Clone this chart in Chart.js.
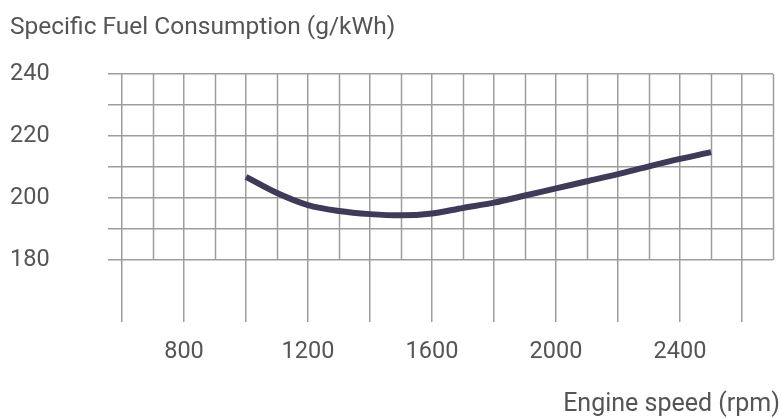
<!DOCTYPE html>
<html>
<head>
<meta charset="utf-8">
<script src="https://cdn.jsdelivr.net/npm/chart.js@4/dist/chart.umd.min.js"></script>
<style>
    html, body { margin: 0; padding: 0; background: #fff; }
    #wrap { width: 782px; height: 418px; }
</style>
</head>
<body>
<div id="wrap"><canvas id="sfc" width="782" height="418"></canvas></div>
<script>
// Engine speed (rpm) and specific fuel consumption (g/kWh).
const rpm = [1000, 1100, 1200, 1300, 1400, 1500, 1600, 1700, 1800, 1900, 2000, 2100, 2200, 2300, 2400, 2500];
const sfc = [206.8, 201.6, 197.7, 195.8, 194.8, 194.4, 195.0, 196.8, 198.5, 200.8, 203.1, 205.4, 207.7, 210.2, 212.6, 214.8];

const xLabels = [800, 1200, 1600, 2000, 2400];
const yLabels = [180, 200, 220, 240];

const GRID = '#9d9d9d';
const TEXT = '#555';
const NONE = 'rgba(0,0,0,0)';
const FONT = "Roboto, 'Liberation Sans', sans-serif";

// minor vertical lines only run through the upper (180-240) band
const shortLines = {
    id: 'shortLines',
    beforeDatasetsDraw(chart) {
        const x = chart.scales.x, y = chart.scales.y;
        const ctx = chart.ctx;
        ctx.save();
        ctx.strokeStyle = GRID;
        ctx.lineWidth = 1.5;
        for (let v = 700; v <= 2700; v += 200) {
            const px = Math.round(x.getPixelForValue(v)) + 0.5;
            ctx.beginPath();
            ctx.moveTo(px, y.getPixelForValue(240));
            ctx.lineTo(px, y.getPixelForValue(180));
            ctx.stroke();
        }
        ctx.restore();
    }
};

new Chart(document.getElementById('sfc'), {
    type: 'line',
    data: {
        datasets: [{
            data: rpm.map((r, i) => ({x: r, y: sfc[i]})),
            borderColor: '#3e3b58',
            borderWidth: 6,
            borderCapStyle: 'butt',
            pointRadius: 0,
            cubicInterpolationMode: 'monotone',
            fill: false
        }]
    },
    options: {
        responsive: false,
        animation: false,
        layout: {padding: {left: 10, right: 2, top: 0, bottom: 0}},
        plugins: {
            legend: {display: false},
            tooltip: {enabled: false},
            title: {
                display: true,
                text: 'Specific Fuel Consumption (g/kWh)',
                align: 'start',
                color: TEXT,
                font: {family: FONT, size: 24.5, weight: 'normal', lineHeight: 1.2},
                padding: {top: 13, bottom: 31.6}
            },
            subtitle: {
                display: true,
                position: 'bottom',
                text: 'Engine speed (rpm)',
                align: 'end',
                color: TEXT,
                font: {family: FONT, size: 25, weight: 'normal', lineHeight: 1.1},
                padding: {top: 0, bottom: 0}
            }
        },
        scales: {
            x: {
                type: 'linear',
                min: 600,
                max: 2700,
                border: {display: false},
                grid: {
                    color: (c) => (c.tick && c.tick.value % 200 === 0) ? GRID : NONE,
                    lineWidth: 1.5,
                    drawTicks: true,
                    tickLength: 16,
                    tickColor: NONE
                },
                ticks: {
                    stepSize: 100,
                    autoSkip: false,
                    maxRotation: 0,
                    padding: 0,
                    color: TEXT,
                    font: {family: FONT, size: 23.5},
                    callback: (v) => xLabels.includes(v) ? String(v) : ''
                },
                afterFit: (s) => { s.height = 418 - 322 - 27.5; }
            },
            y: {
                min: 160,
                max: 240,
                border: {display: false},
                grid: {
                    color: (c) => (c.tick && c.tick.value >= 180) ? GRID : NONE,
                    lineWidth: 1.5,
                    tickLength: 14
                },
                ticks: {
                    stepSize: 10,
                    autoSkip: false,
                    crossAlign: 'far',
                    color: TEXT,
                    font: {family: FONT, size: 23.5},
                    callback: (v) => yLabels.includes(v) ? String(v) : ''
                },
                afterFit: (s) => { s.width = 112; }
            },
            yr: {
                position: 'right',
                display: true,
                grid: {display: false},
                border: {display: false},
                ticks: {display: false},
                afterFit: (s) => { s.width = 7; }
            }
        }
    },
    plugins: [shortLines]
});
</script>
</body>
</html>
